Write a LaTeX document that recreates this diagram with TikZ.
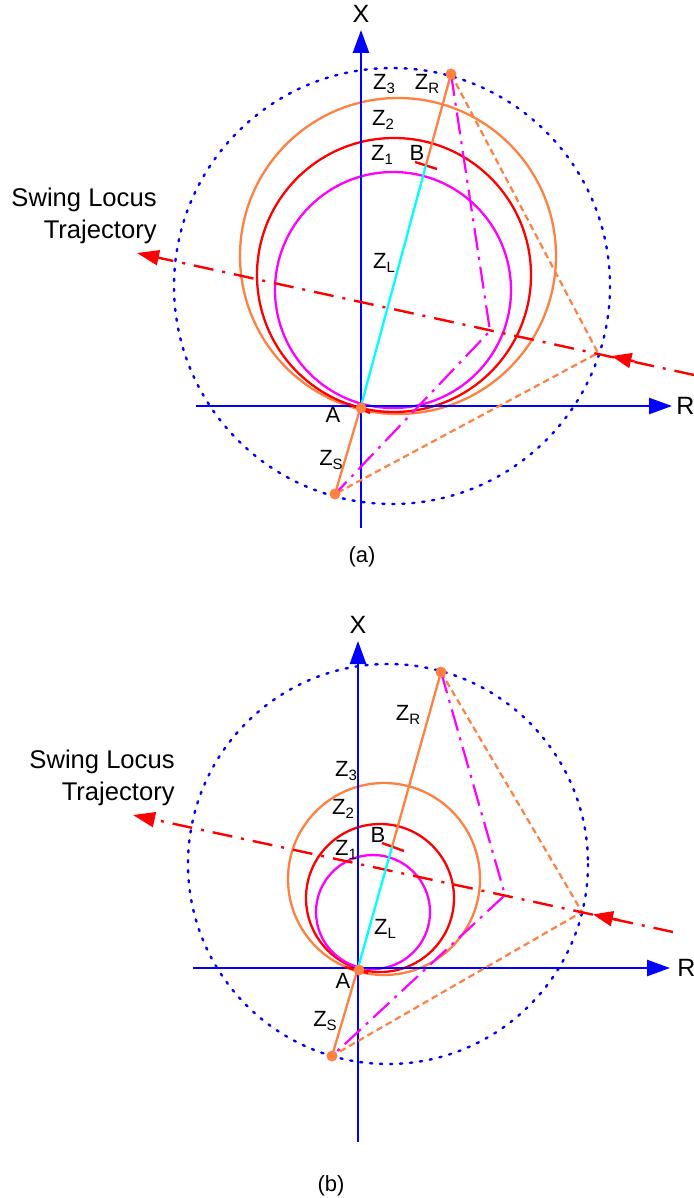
\documentclass[tikz,border=0pt]{standalone}
\usepackage{fontspec}
\setmainfont{Liberation Sans}
\usetikzlibrary{arrows.meta, calc}

\definecolor{zorange}{RGB}{255,128,64}
\definecolor{zmagenta}{RGB}{255,0,255}
\definecolor{zcyan}{RGB}{0,255,255}
\definecolor{zred}{RGB}{255,0,0}
\definecolor{zblue}{RGB}{0,0,255}

\tikzstyle{axis} = [draw=zblue, line width=1.3pt, -{Triangle[length=11.5pt, width=8pt]}]
\tikzstyle{locus} = [draw=zblue, line width=1.2pt, line cap=round, dash pattern=on 1.1pt off 3.9pt]
\tikzstyle{zcircle} = [line width=1.15pt]
\tikzstyle{swing} = [draw=zred, line width=1.2pt, dash pattern=on 10pt off 4.5pt on 1.5pt off 4.5pt, -{Triangle[length=11pt, width=7.5pt]}]
\tikzstyle{swingmark} = [draw=zred, line width=1.2pt, -{Triangle[length=10pt, width=7.5pt]}]
\tikzstyle{zline} = [draw=zorange, line width=1.15pt]
\tikzstyle{zdash} = [draw=zorange, line width=1.1pt, dash pattern=on 3.3pt off 2pt]
\tikzstyle{mdash} = [draw=zmagenta, line width=1.1pt, dash pattern=on 11pt off 3.5pt on 1.5pt off 3.5pt]
\tikzstyle{tick} = [draw=zred, line width=1.2pt]
\tikzstyle{dot} = [circle, fill=zorange, inner sep=0pt, minimum size=5.5pt]
\tikzstyle{lab} = [inner sep=0pt, font=\fontsize{11}{13}\selectfont]
\tikzstyle{big} = [inner sep=0pt, font=\fontsize{12.5}{14}\selectfont]

\newcommand{\zsub}[2]{#1\raisebox{-2pt}{\fontsize{7.5}{8}\selectfont #2}}

\begin{document}
\begin{tikzpicture}[x=0.5pt, y=-0.5pt]
\useasboundingbox (0,0) rectangle (694,1198);

%% ---------------- (a) ----------------
\coordinate (aO) at (361,406);
\coordinate (aXb) at (361,528);
\coordinate (aXt) at (361,30);
\coordinate (aRl) at (196,406);
\coordinate (aRr) at (672,406);
\coordinate (aZR) at (451,74);
\coordinate (aZS) at (335,494);
\coordinate (aB) at (426,165);
\coordinate (aP) at (598,353);
\coordinate (aM) at (490,331);
\coordinate (aswR) at (694,375);
\coordinate (aswL) at (137,253);

% locus circle and zone circles
\draw[locus] (392,286) circle[radius=218];
\draw[zcircle, zorange] (398,256) circle[radius=158];
\draw[zcircle, zred] (394,275) circle[radius=137];
\draw[zcircle, zmagenta] (393,290) circle[radius=118];

% axes
\draw[axis] (aXb) -- (aXt);
\draw[axis] (aRl) -- (aRr);

% dashed triangles
\draw[zdash] (aZR) -- (aP) -- (aZS);
\draw[mdash] (aZR) -- (aM) -- (aZS);

% swing locus
\draw[swing] (aswR) -- (aswL);
\draw[swingmark] ($(aswR)!0.62!(aP)$) -- ($(aswR)!0.86!(aP)$);

% impedances
\draw[tick] (415,162) -- (437,169);
\draw[tick] (349,404) -- (370,413);
\draw[zline] (aZS) -- (aO);
\draw[zline] (aB) -- (aZR);
\draw[zcyan, line width=1.15pt] (aO) -- (aB);
\node[dot] (adZR) at (aZR) {};
\node[dot] (adZS) at (aZS) {};
\node[dot] (adA) at (361,408) {};

% labels
\node[big] (aXl) at (361,14) {X};
\node[big, anchor=west] (aRlab) at (676,406) {R};
\node[lab] (aZ3) at (384,84) {\zsub{Z}{3}};
\node[lab] (aZRl) at (427,84) {\zsub{Z}{R}};
\node[lab] (aZ2) at (383,120) {\zsub{Z}{2}};
\node[lab] (aZ1) at (382,155) {\zsub{Z}{1}};
\node[lab] (aBl) at (417,153) {B};
\node[lab] (aZL) at (384,263) {\zsub{Z}{L}};
\node[lab] (aAl) at (333,415) {A};
\node[lab] (aZSl) at (331,460) {\zsub{Z}{S}};
\node[inner sep=0pt, anchor=east, align=right, font=\fontsize{12.8}{16}\selectfont] (aswing) at (157,216) {Swing Locus\\Trajectory};
\node[inner sep=0pt, font=\fontsize{11}{12}\selectfont] (acap) at (362,557) {(a)};

%% ---------------- (b) ----------------
\coordinate (bO) at (358,968);
\coordinate (bXb) at (358,1142);
\coordinate (bXt) at (358,641);
\coordinate (bRl) at (193,968);
\coordinate (bRr) at (670,968);
\coordinate (bZR) at (441,672);
\coordinate (bZS) at (332,1056);
\coordinate (bB) at (392,847);
\coordinate (bP) at (582,912);
\coordinate (bM) at (505,895);
\coordinate (bswR) at (673,932);
\coordinate (bswL) at (133,815);

% locus circle and zone circles
\draw[locus] (388,864) circle[radius=200];
\draw[zcircle, zorange] (384,879) circle[radius=96];
\draw[zcircle, zred] (380,898) circle[radius=74];
\draw[zcircle, zmagenta] (373,912) circle[radius=57];

% axes
\draw[axis] (bXb) -- (bXt);
\draw[axis] (bRl) -- (bRr);

% dashed triangles
\draw[zdash] (bZR) -- (bP) -- (bZS);
\draw[mdash] (bZR) -- (bM) -- (bZS);

% swing locus
\draw[swing] (bswR) -- (bswL);
\draw[swingmark] ($(bswR)!0.60!(bP)$) -- ($(bswR)!0.88!(bP)$);

% impedances
\draw[tick] (382,843) -- (404,851);
\draw[tick] (345,967) -- (368,973);
\draw[zline] (bZS) -- (bO);
\draw[zline] (bB) -- (bZR);
\draw[zcyan, line width=1.15pt] (bO) -- (bB);
\node[dot] (bdZR) at (bZR) {};
\node[dot] (bdZS) at (bZS) {};
\node[dot] (bdA) at (359,970) {};

% labels
\node[big] (bXl) at (358,625) {X};
\node[big, anchor=west] (bRlab) at (677,968) {R};
\node[lab] (bZRl) at (408,715) {\zsub{Z}{R}};
\node[lab] (bZ3) at (346,771) {\zsub{Z}{3}};
\node[lab] (bZ2) at (343,809) {\zsub{Z}{2}};
\node[lab] (bBl) at (378,835) {B};
\node[lab] (bZ1) at (346,850) {\zsub{Z}{1}};
\node[lab] (bZL) at (385,929) {\zsub{Z}{L}};
\node[lab] (bAl) at (343,981) {A};
\node[lab] (bZSl) at (325,1021) {\zsub{Z}{S}};
\node[inner sep=0pt, anchor=east, align=right, font=\fontsize{12.8}{16}\selectfont] (bswing) at (175,778) {Swing Locus\\Trajectory};
\node[inner sep=0pt, font=\fontsize{11}{12}\selectfont] (bcap) at (331,1186) {(b)};

\end{tikzpicture}
\end{document}
